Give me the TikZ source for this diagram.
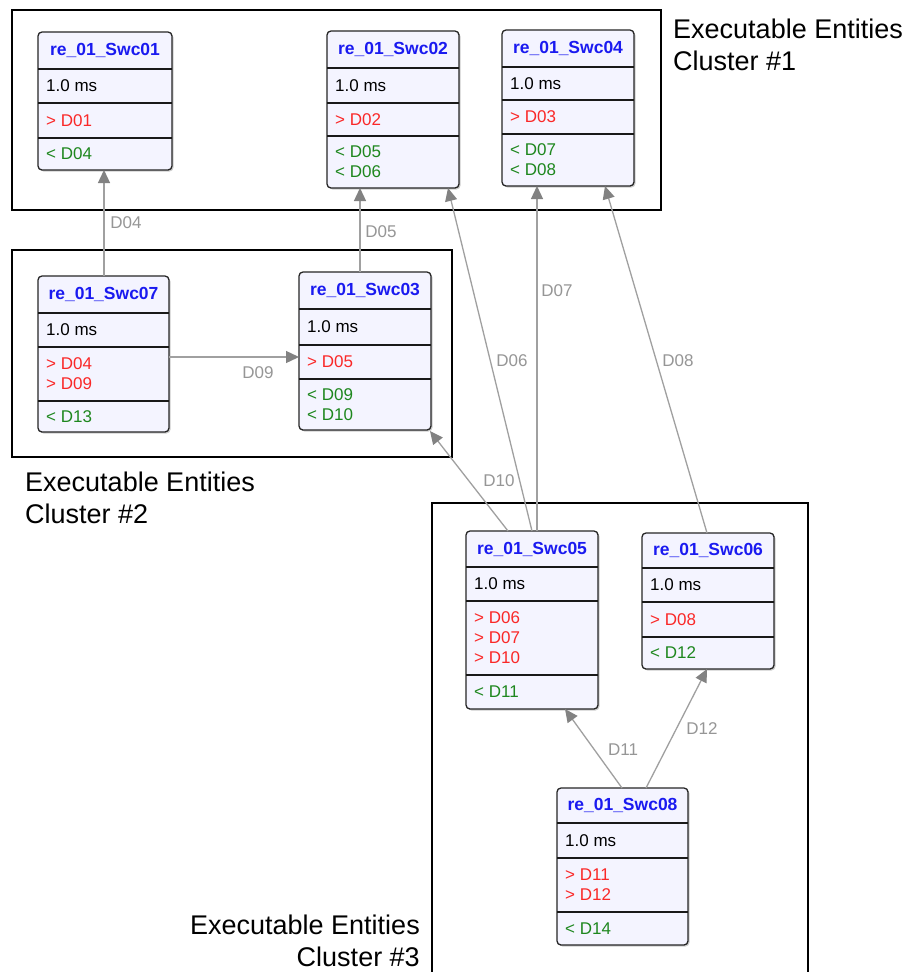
\documentclass[tikz,border=0pt]{standalone}
\usepackage{fontspec}
\setmainfont{Liberation Sans}
\usetikzlibrary{arrows.meta,calc,shadows}
\definecolor{ttlblue}{RGB}{26,26,240}
\definecolor{outred}{RGB}{250,40,40}
\definecolor{ingreen}{RGB}{30,135,30}
\definecolor{boxfill}{RGB}{244,244,255}
\definecolor{linegray}{RGB}{160,160,160}
\definecolor{tipgray}{RGB}{130,130,130}
\definecolor{lblgray}{RGB}{150,150,150}
\tikzset{
  swcframe/.style={draw=black!85, line width=1.3pt, fill=boxfill, rounded corners=4pt,
    inner sep=0pt, outer sep=0pt,
    drop shadow={shadow xshift=1.5pt, shadow yshift=-1.5pt, opacity=0.4}},
  divline/.style={draw=black!90, line width=1.2pt},
  swctitle/.style={font=\fontsize{17.5}{20}\selectfont\bfseries, text=ttlblue, inner sep=0pt},
  rowtxt/.style={font=\fontsize{17}{20}\selectfont, inner sep=0pt, anchor=west, align=left},
  conn/.style={draw=linegray, line width=1.3pt, -{Triangle[length=13pt,width=12pt,color=tipgray]}},
  elabel/.style={font=\fontsize{17}{19}\selectfont, text=lblgray, inner sep=0pt},
  clus/.style={draw=black, line width=1.5pt},
  cluslabel/.style={font=\fontsize{27}{32}\selectfont, inner sep=0pt}
}
\newcommand\swcbox[9]{%
  \node[swcframe, anchor=north west, minimum width={#4-#2}, minimum height={#5-#3}] (#1) at (#2,#3) {};
  \draw[divline] (#2,#6) -- (#4,#6) (#2,#7) -- (#4,#7) (#2,#8) -- (#4,#8);
  \node[swctitle] (#1-t) at ({(#2+#4)/2},{(#3+#6)/2}) {#9};
  \node[rowtxt] (#1-p) at ({#2+8},{(#6+#7)/2}) {1.0 ms};
}
\newcommand\swcrows[7]{%
  \node[rowtxt, text=outred] (#1-o) at ({#2+8},{(#3+#4)/2}) {#6};
  \node[rowtxt, text=ingreen] (#1-i) at ({#2+8},{(#4+#5)/2}) {#7};
}
\begin{document}
\begin{tikzpicture}[x=1pt, y=-1pt]
\fill[white] (0,0) rectangle (907,972);
\useasboundingbox (0,0) rectangle (907,972);
% clusters
\draw[clus] (12,10) rectangle (661,210);
\draw[clus] (12,250) rectangle (452,457);
\draw[clus] (432,985) -- (432,503) -- (808,503) -- (808,985);
\node[cluslabel, anchor=west, align=left] (c1) at (673,44.5) {Executable Entities\\Cluster \#1};
\node[cluslabel, anchor=west, align=left] (c2) at (25,497.5) {Executable Entities\\Cluster \#2};
\node[cluslabel, anchor=east, align=right] (c3) at (420,941) {Executable Entities\\Cluster \#3};
% components
\swcbox{s01}{38}{32}{172}{170}{69}{103}{138}{re\_01\_Swc01}
\swcrows{s01}{38}{103}{138}{170}{> D01}{< D04}
\swcbox{s02}{327}{31}{459}{188}{68}{103}{136}{re\_01\_Swc02}
\swcrows{s02}{327}{103}{136}{188}{> D02}{< D05\\< D06}
\swcbox{s04}{502}{30}{634}{186}{67}{100}{134}{re\_01\_Swc04}
\swcrows{s04}{502}{100}{134}{186}{> D03}{< D07\\< D08}
\swcbox{s07}{38}{276}{169}{432}{313}{347}{401}{re\_01\_Swc07}
\swcrows{s07}{38}{347}{401}{432}{> D04\\> D09}{< D13}
\swcbox{s03}{299}{272}{431}{430}{309}{345}{379}{re\_01\_Swc03}
\swcrows{s03}{299}{345}{379}{430}{> D05}{< D09\\< D10}
\swcbox{s05}{466}{531}{598}{709}{567}{601}{675}{re\_01\_Swc05}
\swcrows{s05}{466}{601}{675}{709}{> D06\\> D07\\> D10}{< D11}
\swcbox{s06}{642}{533}{774}{669}{568}{602}{637}{re\_01\_Swc06}
\swcrows{s06}{642}{602}{637}{669}{> D08}{< D12}
\swcbox{s08}{557}{788}{688}{945}{823}{858}{912}{re\_01\_Swc08}
\swcrows{s08}{557}{858}{912}{945}{> D11\\> D12}{< D14}
% connectors
\draw[conn] ($(s07.north west)+(66,0)$) -- ($(s01.south west)+(66,0)$);
\draw[conn] ($(s03.north west)+(61,0)$) -- ($(s02.south west)+(33,0)$);
\draw[conn] ($(s07.north east)+(0,81)$) -- ($(s03.north west)+(0,85)$);
\draw[conn] ($(s05.north west)+(42,0)$) -- ($(s03.south east)+(-1,1)$);
\draw[conn] ($(s05.north west)+(66,0)$) -- ($(s02.south west)+(121,0)$);
\draw[conn] ($(s05.north west)+(71,0)$) -- ($(s04.south west)+(35,0)$);
\draw[conn] ($(s06.north west)+(65,0)$) -- ($(s04.south west)+(103,0)$);
\draw[conn] ($(s08.north west)+(65,0)$) -- ($(s05.south west)+(99,0)$);
\draw[conn] ($(s08.north west)+(89,0)$) -- ($(s06.south west)+(65,0)$);
% connector labels
\node[elabel] (l04) at (126,223) {D04};
\node[elabel] (l05) at (381,232) {D05};
\node[elabel] (l09) at (258,373) {D09};
\node[elabel] (l10) at (499,481) {D10};
\node[elabel] (l06) at (512,361) {D06};
\node[elabel] (l07) at (557,291) {D07};
\node[elabel] (l08) at (678,361) {D08};
\node[elabel] (l11) at (623,750) {D11};
\node[elabel] (l12) at (702,729) {D12};
\end{tikzpicture}
\end{document}
